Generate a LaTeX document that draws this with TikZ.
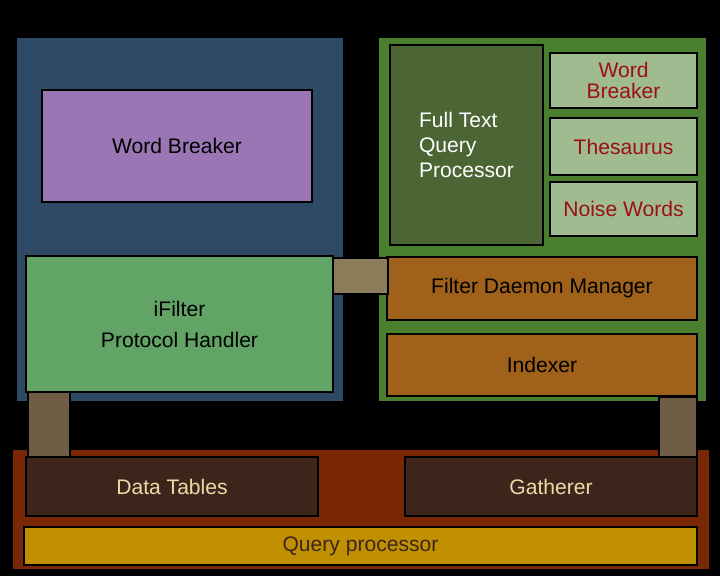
\documentclass[tikz,border=0pt]{standalone}
\usepackage{fontspec}
\setmainfont{Liberation Sans}
\usetikzlibrary{fit}
\definecolor{paneblue}{HTML}{2F4A66}
\definecolor{panegreen}{HTML}{4A7F2F}
\definecolor{panered}{HTML}{7A2706}
\definecolor{wbpurple}{HTML}{9B76B5}
\definecolor{ftqp}{HTML}{4B6535}
\definecolor{lightgreen}{HTML}{A0BB90}
\definecolor{darkred}{HTML}{9B1010}
\definecolor{ifgreen}{HTML}{62A466}
\definecolor{linktan}{HTML}{8C7D5A}
\definecolor{linkbrown}{HTML}{6F5E45}
\definecolor{orangebox}{HTML}{A0621A}
\definecolor{darkbox}{HTML}{3D251C}
\definecolor{lighttext}{HTML}{F0D8A8}
\definecolor{goldbox}{HTML}{C09000}
\tikzset{
  pane/.style={draw=black, line width=1.5pt, inner sep=0pt},
  box/.style={pane, font=\fontsize{15}{18}\selectfont, align=center},
  link/.style={pane, fill=linktan}
}
\begin{document}
\begin{tikzpicture}[x=0.025cm, y=-0.025cm]
  \fill[black] (0,0) rectangle (720,576);
  \useasboundingbox (0,0) rectangle (720,576);
  % panels
  \node[pane, fill=paneblue, fit={(16,37) (344,402)}] (client) {};
  \node[pane, fill=panegreen, fit={(378,37) (707,402)}] (server) {};
  \node[pane, fill=panered, fit={(12,449) (710,570)}] (engine) {};
  % client side
  \node[box, fill=wbpurple, fit={(42,90) (312,202)}] (wordbreaker) {};
  \node at (wordbreaker) [font=\fontsize{15}{18}\selectfont] {Word Breaker};
  \node[box, fill=ifgreen, fit={(26,256) (333,392)}] (ifilter) {};
  \node at (ifilter) [font=\fontsize{15}{22}\selectfont, align=center] {iFilter\\Protocol Handler};
  % server side
  \node[box, fill=ftqp, fit={(390,45) (543,245)}] (fulltext) {};
  \node at (fulltext) [font=\fontsize{15}{18}\selectfont, align=left, text=white] {Full Text\\Query\\Processor};
  \node[box, fill=lightgreen, fit={(550,53) (697,108)}] (smallwb) {};
  \node at (smallwb) [font=\fontsize{15}{15}\selectfont, align=center, text=darkred] {Word\\Breaker};
  \node[box, fill=lightgreen, fit={(550,118) (697,175)}] (thesaurus) {};
  \node at (thesaurus) [font=\fontsize{15}{18}\selectfont, text=darkred] {Thesaurus};
  \node[box, fill=lightgreen, fit={(550,182) (697,236)}] (noise) {};
  \node at (noise) [font=\fontsize{15}{18}\selectfont, text=darkred] {Noise Words};
  \node[box, fill=orangebox, fit={(387,257) (697,320)}] (daemon) {};
  \node at (daemon) [font=\fontsize{15}{18}\selectfont] {Filter Daemon Manager};
  \node[box, fill=orangebox, fit={(387,334) (697,396)}] (indexer) {};
  \node at (indexer) [font=\fontsize{15}{18}\selectfont] {Indexer};
  % storage engine
  \node[box, fill=darkbox, fit={(26,457) (318,516)}] (tables) {};
  \node at (tables) [font=\fontsize{15}{18}\selectfont, text=lighttext] {Data Tables};
  \node[box, fill=darkbox, fit={(405,457) (697,516)}] (gatherer) {};
  \node at (gatherer) [font=\fontsize{15}{18}\selectfont, text=lighttext] {Gatherer};
  \node[box, fill=goldbox, fit={(24,527) (697,565)}] (queryproc) {};
  \node at (queryproc) [font=\fontsize{15}{18}\selectfont, text=darkbox] {Query processor};
  % links
  \node[link, fit={(333,258) (388,294)}] (linkmid) {};
  \node[link, fill=linkbrown, fit={(28,392) (70,457)}] (linkleft) {};
  \node[link, fill=linkbrown, fit={(659,397) (697,457)}] (linkright) {};
\end{tikzpicture}
\end{document}
